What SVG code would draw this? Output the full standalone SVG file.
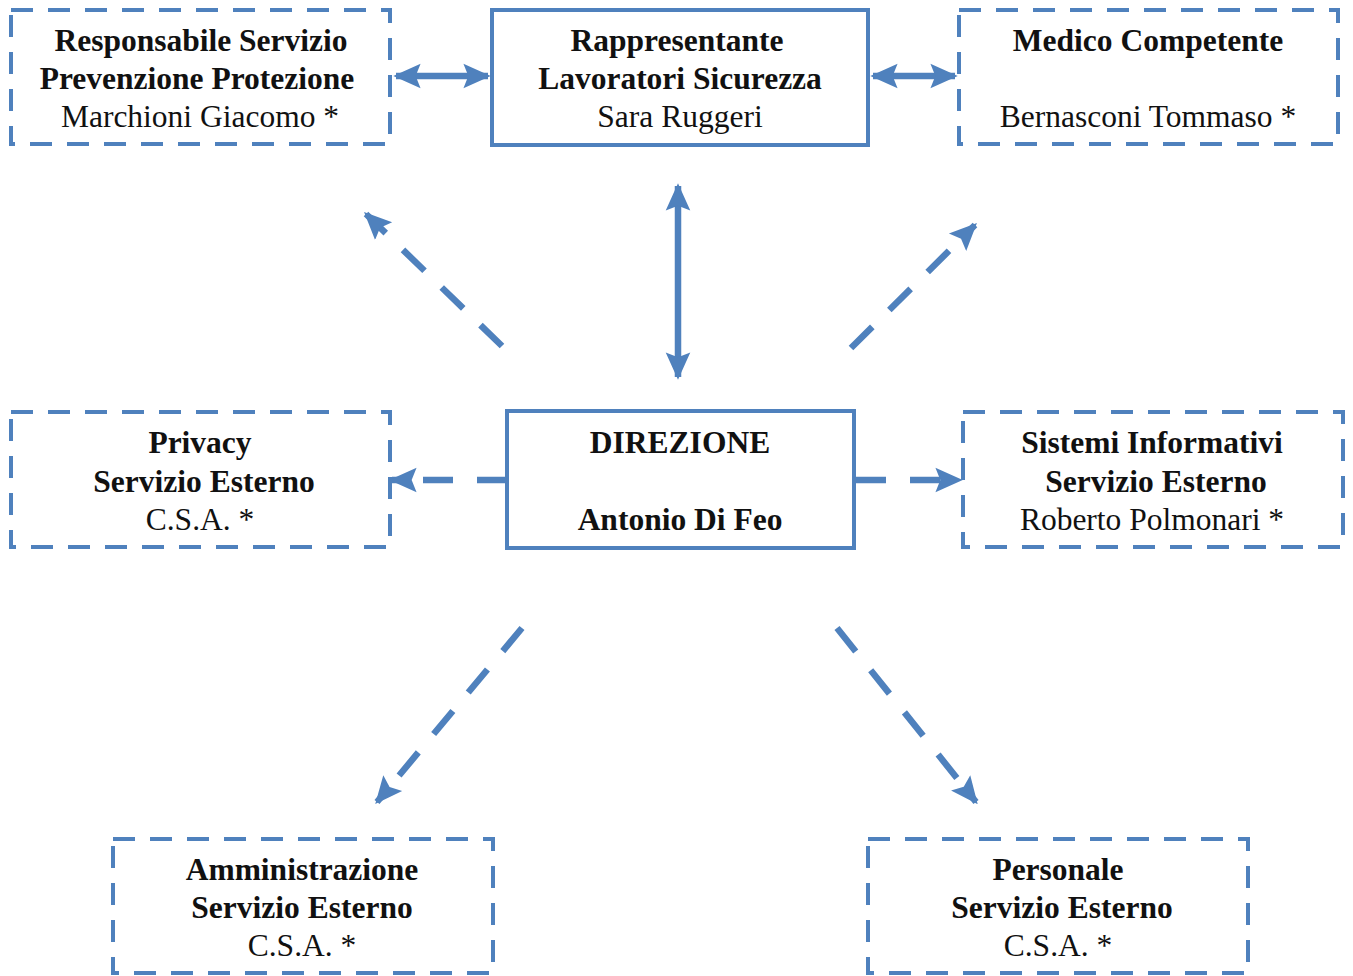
<svg xmlns="http://www.w3.org/2000/svg" width="1353" height="976" viewBox="0 0 1353 976">
<defs>
<style>
.box{fill:#fff;stroke:#4F81BD;stroke-width:4}
.dash{stroke-dasharray:22 15}
.t{font-family:"Liberation Serif","Times New Roman",serif;font-size:31.5px;fill:#111;text-anchor:middle}
.b{font-weight:bold}
.c{stroke:#4F81BD;stroke-width:6.5;fill:none}
.cd{stroke-dasharray:30 24}
</style>
<marker id="ah" viewBox="0 0 10 10" refX="9" refY="5" markerWidth="4.2" markerHeight="4.2" orient="auto-start-reverse" markerUnits="strokeWidth">
<path d="M0,0.5 L10,5 L0,9.5 L1.8,5 Z" fill="#4F81BD"/>
</marker>
</defs>
<rect width="1353" height="976" fill="#fff"/>
<g id="connectors">
<line class="c" x1="396" y1="76" x2="488" y2="76" marker-start="url(#ah)" marker-end="url(#ah)"/>
<line class="c" x1="873" y1="76" x2="955" y2="76" marker-start="url(#ah)" marker-end="url(#ah)"/>
<line class="c" x1="678" y1="186" x2="678" y2="377" marker-start="url(#ah)" marker-end="url(#ah)"/>
<line class="c cd" x1="502" y1="346" x2="366" y2="214" marker-end="url(#ah)"/>
<line class="c cd" x1="851" y1="348" x2="975" y2="225" marker-end="url(#ah)"/>
<line class="c cd" x1="507" y1="480" x2="392" y2="480" marker-end="url(#ah)"/>
<line class="c cd" x1="856" y1="480" x2="960" y2="480" marker-end="url(#ah)"/>
<line class="c cd" x1="522" y1="628" x2="377" y2="802" marker-end="url(#ah)"/>
<line class="c cd" x1="837" y1="628" x2="976" y2="802" marker-end="url(#ah)"/>
</g>
<g id="rspp">
<rect class="box dash" x="11" y="10" width="379" height="134"/>
<text class="t b" x="201" y="51">Responsabile Servizio</text>
<text class="t b" x="197" y="89">Prevenzione Protezione</text>
<text class="t" x="200" y="127">Marchioni Giacomo *</text>
</g>
<g id="rls">
<rect class="box" x="492" y="10" width="376" height="135"/>
<text class="t b" x="677" y="51">Rappresentante</text>
<text class="t b" x="680" y="89">Lavoratori Sicurezza</text>
<text class="t" x="680" y="127">Sara Ruggeri</text>
</g>
<g id="medico">
<rect class="box dash" x="959" y="10" width="379" height="134"/>
<text class="t b" x="1148" y="51">Medico Competente</text>
<text class="t" x="1148" y="127">Bernasconi Tommaso *</text>
</g>
<g id="privacy">
<rect class="box dash" x="11" y="412" width="379" height="135"/>
<text class="t b" x="200" y="453">Privacy</text>
<text class="t b" x="204" y="492">Servizio Esterno</text>
<text class="t" x="200" y="530">C.S.A. *</text>
</g>
<g id="direzione">
<rect class="box" x="507" y="411" width="347" height="137"/>
<text class="t b" x="680" y="453">DIREZIONE</text>
<text class="t b" x="680" y="530">Antonio Di Feo</text>
</g>
<g id="sistemi">
<rect class="box dash" x="963" y="412" width="380" height="135"/>
<text class="t b" x="1152" y="453">Sistemi Informativi</text>
<text class="t b" x="1156" y="492">Servizio Esterno</text>
<text class="t" x="1152" y="530">Roberto Polmonari *</text>
</g>
<g id="amministrazione">
<rect class="box dash" x="113" y="839" width="380" height="134"/>
<text class="t b" x="302" y="880">Amministrazione</text>
<text class="t b" x="302" y="918">Servizio Esterno</text>
<text class="t" x="302" y="956">C.S.A. *</text>
</g>
<g id="personale">
<rect class="box dash" x="868" y="839" width="380" height="134"/>
<text class="t b" x="1058" y="880">Personale</text>
<text class="t b" x="1062" y="918">Servizio Esterno</text>
<text class="t" x="1058" y="956">C.S.A. *</text>
</g>
</svg>
